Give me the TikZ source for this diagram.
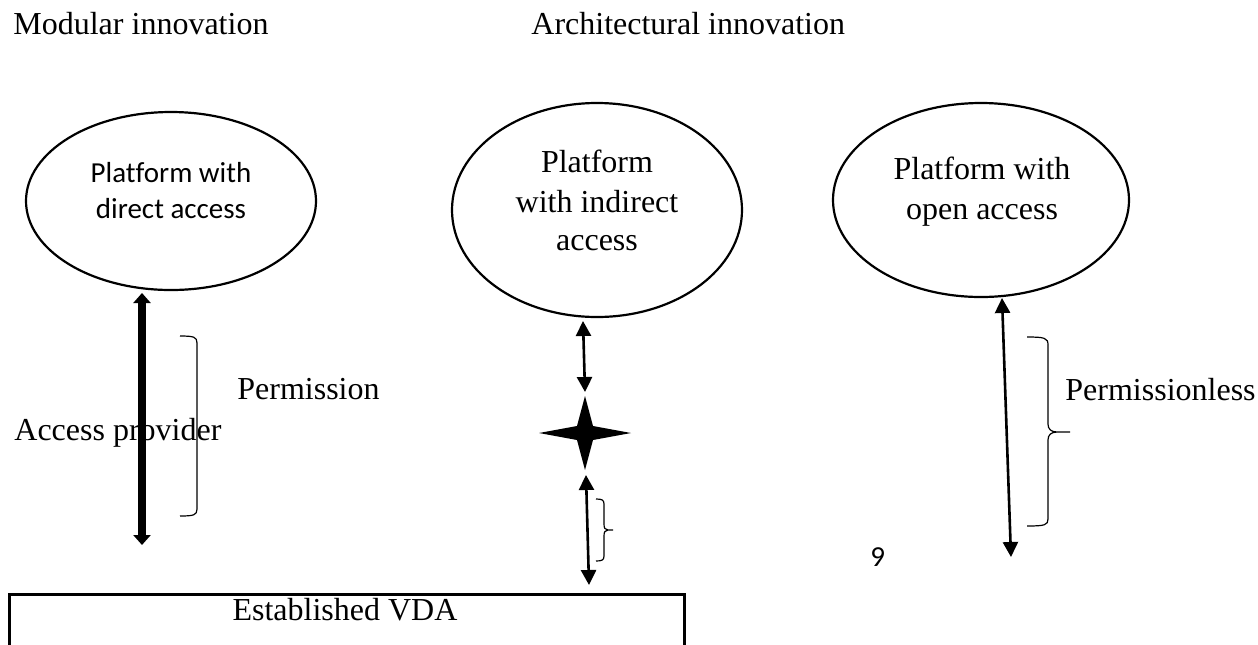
\documentclass[tikz,border=0pt]{standalone}
\usepackage{fontspec}
\setmainfont{Liberation Serif}
\newfontfamily\calib[Ligatures=NoCommon]{Carlito}
\usetikzlibrary{arrows.meta,shapes.geometric}
\tikzset{
  serif/.style={font=\fontsize{16pt}{19.5pt}\selectfont, inner sep=0pt},
  sans/.style={font=\calib\fontsize{14.5pt}{18.5pt}\selectfont, inner sep=0pt},
  platform/.style={draw, ellipse, line width=1.1pt, inner sep=0pt},
  thinarrow/.style={line width=1.3pt, {Triangle[width=7.5pt,length=7.5pt]}-{Triangle[width=7.5pt,length=7.5pt]}},
  thickarrow/.style={line width=4pt, {Triangle[width=8.5pt,length=5pt]}-{Triangle[width=8.5pt,length=5pt]}},
  bracket/.style={line width=0.6pt},
}
\begin{document}
\begin{tikzpicture}[x=0.5pt,y=-0.5pt]
\useasboundingbox (0,0) rectangle (1258,644);
\clip (0,0) rectangle (1258,644);

% titles
\node[serif, anchor=base west] (t1) at (13,34) {Modular innovation};
\node[serif, anchor=base west] (t2) at (531,34) {Architectural innovation};

% platforms
\node[platform, minimum width=145pt, minimum height=89pt] (p1) at (171,201) {};
\node[platform, minimum width=145pt, minimum height=107pt] (p2) at (597,210) {};
\node[platform, minimum width=148pt, minimum height=97pt] (p3) at (981,200) {};

\node[sans, anchor=base] (p1a) at (171,182) {Platform with};
\node[sans, anchor=base] (p1b) at (171,218) {direct access};
\node[serif, anchor=base] (p2a) at (597,172) {Platform};
\node[serif, anchor=base] (p2b) at (597,212) {with indirect};
\node[serif, anchor=base] (p2c) at (597,250) {access};
\node[serif, anchor=base] (p3a) at (982,179) {Platform with};
\node[serif, anchor=base] (p3b) at (982,219) {open access};

% established VDA box
\node[draw, line width=1.3pt, minimum width=337.5pt, minimum height=60pt, anchor=north west, inner sep=0pt] (vda) at (8,593) {};
\node[serif, anchor=base] (vdat) at (345,620) {Established VDA};

% star
\coordinate (star) at (585,433);
\fill (585,396) -- (593,426) -- (631,433) -- (593,440) -- (585,470) -- (577,440) -- (539,433) -- (577,426) -- cycle;

% arrow end points
\coordinate (a1t) at (142,293);
\coordinate (a1b) at (142,545);
\coordinate (a2t) at (583,321);
\coordinate (a2b) at (585,392);
\coordinate (a3t) at (586,475);
\coordinate (a3b) at (589,585);
\coordinate (a4t) at (1002,298);
\coordinate (a4b) at (1011,557);

\draw[thickarrow] (a1t) -- (a1b);
\draw[thinarrow] (a2t) -- (a2b);
\draw[thinarrow] (a3t) -- (a3b);
\draw[thinarrow] (a4t) -- (a4b);

% brackets
\draw[bracket] (180,336) .. controls (194,336) and (197,337) .. (197,343) -- (197,509)
  .. controls (197,515) and (194,516) .. (180,516);
\draw[bracket] (596,499) .. controls (602,499) and (604,500) .. (604,504) -- (604,524)
  .. controls (604,528) and (605,530) .. (608,530) -- (613,530)
  (608,530) .. controls (605,530) and (604,532) .. (604,536) -- (604,556)
  .. controls (604,560) and (602,561) .. (596,561);
\draw[bracket] (1027,337) .. controls (1045,337) and (1048,338) .. (1048,345) -- (1048,424)
  .. controls (1048,429) and (1051,432) .. (1057,432) -- (1070,432)
  (1057,432) .. controls (1051,432) and (1048,435) .. (1048,440) -- (1048,519)
  .. controls (1048,525) and (1045,526) .. (1027,526);

% labels
\node[serif, anchor=base west] (perm) at (237,399) {Permission};
\node[serif, anchor=base west] (acc) at (14,440) {Access provider};
\node[serif, anchor=base west] (perml) at (1065,400) {Permissionless};
\node[sans, anchor=base west] (nine) at (870,566) {9};
\end{tikzpicture}
\end{document}
